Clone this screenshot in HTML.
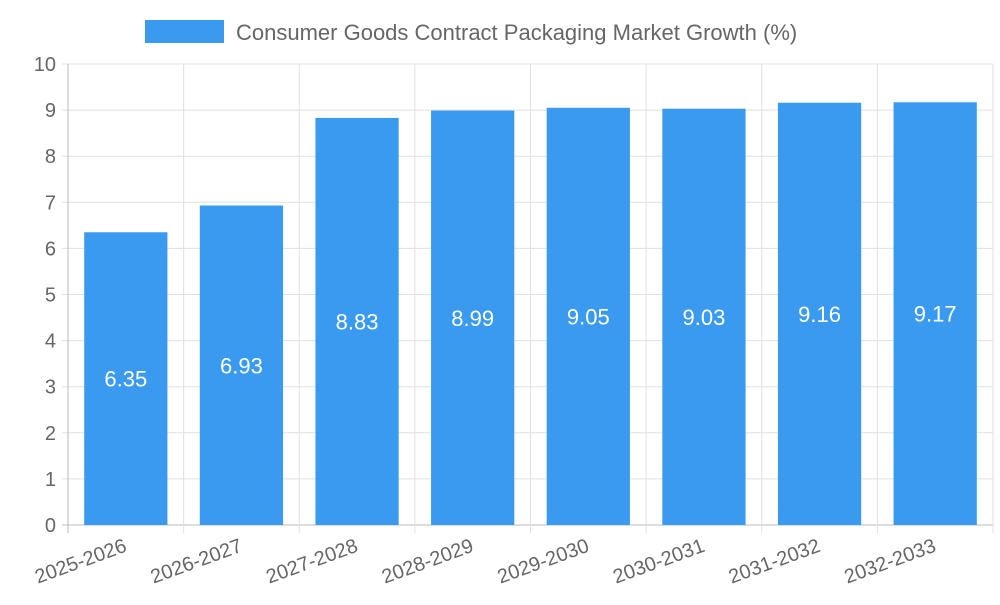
<!DOCTYPE html>
<html><head><meta charset="utf-8"><style>
body{margin:0;background:#fff;font-family:"Liberation Sans",sans-serif;}
</style></head><body>
<svg width="1000" height="600" xmlns="http://www.w3.org/2000/svg">
<g id="legend">
<rect x="145" y="20" width="79" height="23" fill="#3a9af0"/>
<text x="236" y="40" font-size="22" fill="#666">Consumer Goods Contract Packaging Market Growth (%)</text>
</g>
<g id="grid"></g><g id="bars"></g><g id="labels"></g>
</svg>
<script>
const categories=["2025-2026","2026-2027","2027-2028","2028-2029","2029-2030","2030-2031","2031-2032","2032-2033"];
const values=[6.35,6.93,8.83,8.99,9.05,9.03,9.16,9.17];
const yTicks=[0,1,2,3,4,5,6,7,8,9,10];
const X0=68,X1=993,Y0=525,Y1=64,YMAX=10;
const bw=(X1-X0)/categories.length;
const y=v=>Y0-(v/YMAX)*(Y0-Y1);
const xc=i=>X0+bw*(i+0.5);
const NS="http://www.w3.org/2000/svg";
function mk(t,a,p){const e=document.createElementNS(NS,t);for(const k in a)e.setAttribute(k,a[k]);p.appendChild(e);return e;}
const g=document.getElementById('grid'),b=document.getElementById('bars'),l=document.getElementById('labels');
yTicks.forEach(v=>{
 const ln=mk('line',{x1:X0-6,x2:X1,y1:y(v),y2:y(v),stroke:v===0?'#bbb':'#e0e0e0','stroke-width':1},g);
 
 
 const t=mk('text',{x:X0-12,y:y(v)+7,'text-anchor':'end','font-size':20,fill:'#666'},g);
 t.textContent=v;
 
 
});
for(let i=0;i<=categories.length;i++){
 const x=X0+bw*i;
 const ln=mk('line',{x1:x,x2:x,y1:Y1,y2:Y0+8,stroke:i===0?'#bbb':'#e0e0e0','stroke-width':1},g);
 
 
}
categories.forEach((c,i)=>{
 const w=bw*0.72,v=values[i];
 const r=mk('rect',{x:xc(i)-w/2,y:y(v),width:w,height:Y0-y(v),fill:'#3a9af0'},b);
 
 
 const vt=mk('text',{x:xc(i),y:(y(v)+Y0)/2+8,'text-anchor':'middle','font-size':22,fill:'#fff'},l);
 vt.textContent=v.toFixed(2);
 
 
 const t=mk('text',{x:xc(i)+2,y:Y0+26,'text-anchor':'end','font-size':20,fill:'#666',transform:`rotate(-20 ${xc(i)+2} ${Y0+26})`},l);
 t.textContent=c;
 
 
});
</script>
</body></html>
